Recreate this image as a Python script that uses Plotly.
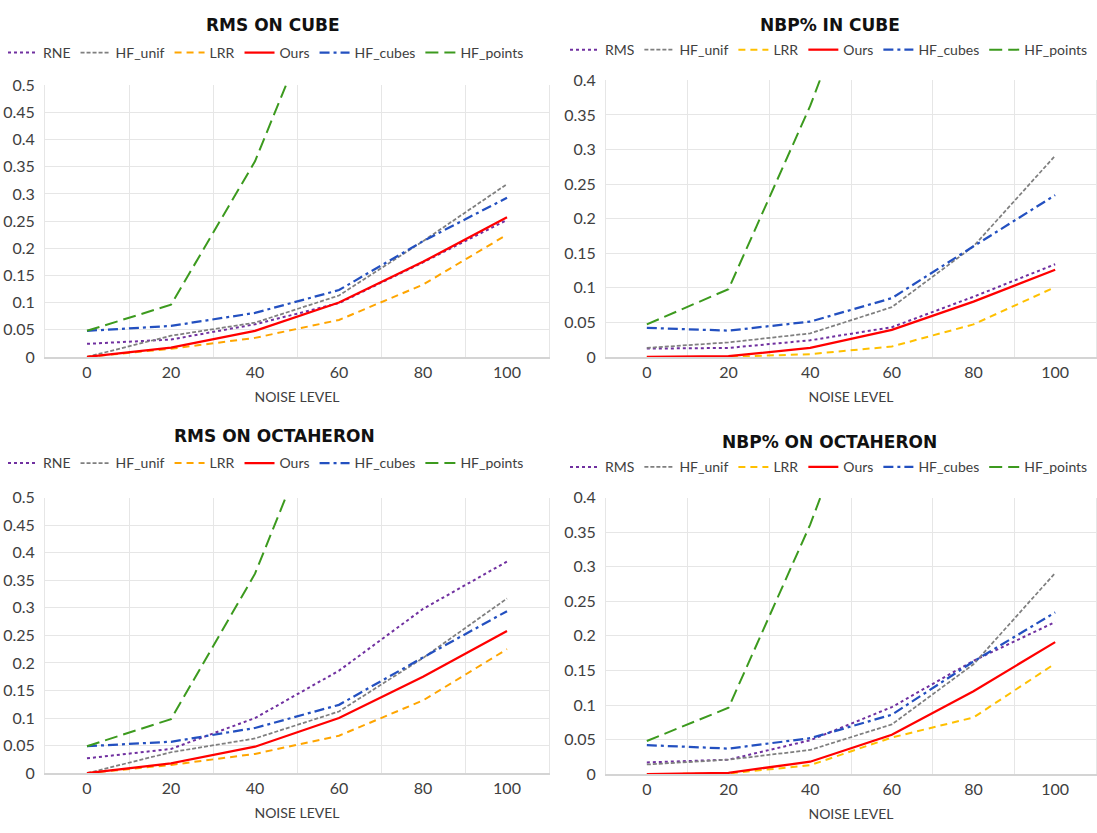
import plotly.graph_objects as go

noise = [0, 20, 40, 60, 80, 100]

# RMS ON CUBE
rms_cube_rne = [0.024, 0.032, 0.060, 0.099, 0.174, 0.252]
rms_cube_hf_unif = [0.0, 0.039, 0.063, 0.113, 0.213, 0.318]
rms_cube_lrr = [0.0, 0.015, 0.035, 0.068, 0.133, 0.225]
rms_cube_ours = [0.0, 0.017, 0.048, 0.100, 0.175, 0.257]
rms_cube_hf_cubes = [0.048, 0.057, 0.081, 0.123, 0.213, 0.293]
rms_cube_hf_points = [0.048, 0.096, 0.360, 0.74, 1.0, 1.3]

# NBP% IN CUBE
nbp_cube_rms = [0.012, 0.013, 0.024, 0.043, 0.087, 0.134]
nbp_cube_hf_unif = [0.013, 0.021, 0.034, 0.072, 0.160, 0.291]
nbp_cube_lrr = [0.0, 0.0, 0.004, 0.015, 0.047, 0.101]
nbp_cube_ours = [0.0, 0.001, 0.013, 0.039, 0.080, 0.126]
nbp_cube_hf_cubes = [0.042, 0.038, 0.051, 0.085, 0.160, 0.234]
nbp_cube_hf_points = [0.047, 0.098, 0.363, 0.70, 1.0, 1.3]

# RMS ON OCTAHERON
rms_oct_rne = [0.027, 0.044, 0.100, 0.186, 0.298, 0.384]
rms_oct_hf_unif = [0.0, 0.038, 0.063, 0.112, 0.209, 0.317]
rms_oct_lrr = [0.0, 0.015, 0.035, 0.068, 0.132, 0.225]
rms_oct_ours = [0.0, 0.018, 0.048, 0.100, 0.175, 0.258]
rms_oct_hf_cubes = [0.049, 0.057, 0.082, 0.124, 0.210, 0.294]
rms_oct_hf_points = [0.049, 0.098, 0.362, 0.74, 1.0, 1.3]

# NBP% ON OCTAHERON
nbp_oct_rms = [0.017, 0.021, 0.049, 0.097, 0.164, 0.220]
nbp_oct_hf_unif = [0.014, 0.021, 0.035, 0.072, 0.159, 0.291]
nbp_oct_lrr = [0.0, 0.001, 0.013, 0.053, 0.082, 0.160]
nbp_oct_ours = [0.0, 0.002, 0.018, 0.057, 0.120, 0.191]
nbp_oct_hf_cubes = [0.042, 0.037, 0.052, 0.086, 0.163, 0.234]
nbp_oct_hf_points = [0.048, 0.096, 0.361, 0.69, 1.0, 1.3]

titles = ["RMS ON CUBE", "NBP% IN CUBE", "RMS ON OCTAHERON", "NBP% ON OCTAHERON"]
y_max = [0.5, 0.4, 0.5, 0.4]
x_tick_labels = ["0", "20", "40", "60", "80", "100"]

W, H = 1097, 833
FONT = "Lato"
TXT = "#404040"
GRID = "#E6E6E6"
AXL = "#D4D4D4"

PURPLE = "#7030A0"
GRAY = "#7F7F7F"
ORANGE1 = "#FFA500"
YELLOW = "#FFC000"
RED = "#FF0000"
BLUE = "#2350C0"
GREEN = "#3C9A1E"

charts = [
    ("RNE", [rms_cube_rne, rms_cube_hf_unif, rms_cube_lrr, rms_cube_ours, rms_cube_hf_cubes, rms_cube_hf_points], ORANGE1),
    ("RMS", [nbp_cube_rms, nbp_cube_hf_unif, nbp_cube_lrr, nbp_cube_ours, nbp_cube_hf_cubes, nbp_cube_hf_points], YELLOW),
    ("RNE", [rms_oct_rne, rms_oct_hf_unif, rms_oct_lrr, rms_oct_ours, rms_oct_hf_cubes, rms_oct_hf_points], ORANGE1),
    ("RMS", [nbp_oct_rms, nbp_oct_hf_unif, nbp_oct_lrr, nbp_oct_ours, nbp_oct_hf_cubes, nbp_oct_hf_points], YELLOW),
]

# pixel layout (left, right, top, bottom) of each plot area
boxes = [(45, 549, 77, 355), (606, 1096, 72, 355), (45, 549, 499, 781), (606, 1096, 499, 782)]
title_pos = [(273, 15), (830, 15), (274, 436), (829, 442)]
legend_pos = [(266, 44), (829, 41), (266, 464), (829, 468)]

fig = go.Figure()
layout = dict(
    width=W, height=H, margin=dict(l=0, r=0, t=0, b=0),
    paper_bgcolor="white", plot_bgcolor="white",
    font=dict(family=FONT, color=TXT),
    annotations=[],
)

for i, (first_name, series, lrr_color) in enumerate(charts):
    n = "" if i == 0 else str(i + 1)
    xa, ya = "x" + n, "y" + n
    leg = "legend" + n
    names = [first_name, "HF_unif", "LRR", "Ours", "HF_cubes", "HF_points"]
    styles = [
        dict(color=PURPLE, width=2, dash="dot"),
        dict(color=GRAY, width=1.75, dash="4px,2px"),
        dict(color=lrr_color, width=2, dash="7px,5px"),
        dict(color=RED, width=2.25, dash="solid"),
        dict(color=BLUE, width=2.25, dash="10px,4px,3px,4px"),
        dict(color=GREEN, width=2, dash="13px,6px"),
    ]
    for name, vals, st in zip(names, series, styles):
        fig.add_trace(go.Scatter(
            x=noise, y=vals, mode="lines", name=name, line=st,
            xaxis=xa, yaxis=ya, legend=leg, hoverinfo="skip",
        ))
    l, r, t, b = boxes[i]
    layout["xaxis" + n] = dict(
        domain=[l / W, r / W], anchor=ya, range=[-10, 110],
        tickvals=noise, ticktext=x_tick_labels,
        showgrid=False, zeroline=False,
        minor=dict(tickvals=[-10, 10, 30, 50, 70, 90, 110], showgrid=True, gridcolor=GRID, gridwidth=1, ticks=""),
        showline=True, linecolor=AXL, linewidth=1.5,
        ticks="",
        tickfont=dict(family=FONT, size=16, color=TXT),
        title=dict(text="NOISE LEVEL", font=dict(family=FONT, size=14, color=TXT), standoff=12),
        fixedrange=True,
    )
    layout["yaxis" + n] = dict(
        domain=[1 - b / H, 1 - t / H], anchor=xa, range=[0, y_max[i]],
        dtick=0.05, tick0=0,
        showgrid=True, gridcolor=GRID, gridwidth=1, zeroline=False,
        showline=True, linecolor=GRID, linewidth=1, mirror=True,
        ticks="outside", ticklen=6, tickcolor="rgba(0,0,0,0)",
        tickfont=dict(family=FONT, size=16, color=TXT),
        fixedrange=True,
    )
    lx, ly = legend_pos[i]
    layout[leg] = dict(
        orientation="h", x=lx / W, y=1 - ly / H, xanchor="center", yanchor="middle",
        xref="paper", yref="paper", itemwidth=30, bgcolor="rgba(0,0,0,0)",
        font=dict(family=FONT, size=14, color=TXT), tracegroupgap=0,
    )
    tx, ty = title_pos[i]
    layout["annotations"].append(dict(
        text="<b>" + titles[i] + "</b>", x=tx / W, y=1 - ty / H, xref="paper", yref="paper",
        xanchor="center", yanchor="middle", showarrow=False,
        font=dict(family="DejaVu Sans", size=17, color="#111111"),
    ))

fig.update_layout(**layout)
fig.write_html(
    "out.html",
    config={"displayModeBar": False},
    post_script="document.body.style.margin='0';document.body.style.padding='0';",
)
